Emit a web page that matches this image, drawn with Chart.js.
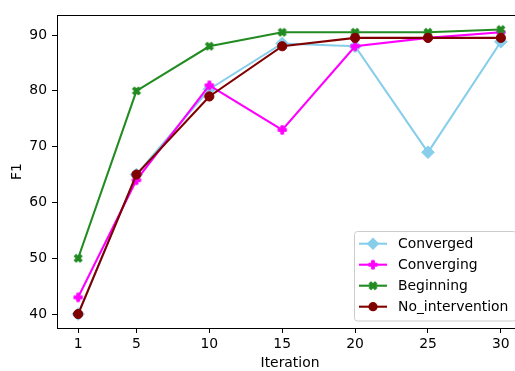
<!DOCTYPE html>
<html>
<head>
<meta charset="utf-8">
<script src="https://cdn.jsdelivr.net/npm/chart.js@4"></script>
<style>
  html, body { margin: 0; padding: 0; background: #fff; overflow: hidden; }
  #wrap { width: 515px; height: 371px; overflow: hidden; }
</style>
</head>
<body>
<div id="wrap"><canvas id="f1Chart" width="540" height="371"></canvas></div>
<script>
// data
const iterations = [1, 5, 10, 15, 20, 25, 30];
const converged = [40, 65, 80.3, 88.5, 88, 69, 88.8];
const converging = [43, 64, 81, 73, 88, 89.5, 90.5];
const beginning = [50, 80, 88, 90.5, 90.5, 90.5, 91];
const noIntervention = [40, 65, 79, 88, 89.5, 89.5, 89.5];
const yTicks = [40, 50, 60, 70, 80, 90];

const FONT = "'DejaVu Sans', sans-serif";

// filled plus / filled x markers like matplotlib 'P' and 'X'
function makeMarker(color, rot) {
    const c = document.createElement('canvas');
    c.width = 14; c.height = 14;
    const g = c.getContext('2d');
    const pts = [[-1,-3],[1,-3],[1,-1],[3,-1],[3,1],[1,1],[1,3],[-1,3],[-1,1],[-3,1],[-3,-1],[-1,-1]];
    const s = 8.3 / 6;
    g.translate(7, 7);
    g.rotate(rot);
    g.beginPath();
    pts.forEach((p, i) => {
        if (i == 0) g.moveTo(p[0]*s, p[1]*s); else g.lineTo(p[0]*s, p[1]*s);
    });
    g.closePath();
    g.fillStyle = color;
    g.strokeStyle = color;
    g.lineWidth = 1;
    g.fill();
    g.stroke();
    return c;
}

const series = [
    { label: 'Converged', values: converged, color: '#87CEEB', style: 'rectRot', radius: 6.3, order: 3 },
    { label: 'Converging', values: converging, color: '#FF00FF', style: makeMarker('#FF00FF', 0), order: 2 },
    { label: 'Beginning', values: beginning, color: '#228B22', style: makeMarker('#228B22', Math.PI / 4), order: 1 },
    { label: 'No_intervention', values: noIntervention, color: '#800000', style: 'circle', radius: 4.6, order: 0 }
];

const datasets = series.map(s => ({
    label: s.label,
    data: s.values.map((v, i) => ({ x: iterations[i], y: v })),
    borderColor: s.color,
    backgroundColor: s.color,
    borderWidth: 2.1,
    pointStyle: s.style,
    pointRadius: s.radius || 5,
    pointBorderWidth: 1,
    pointBorderColor: s.color,
    pointBackgroundColor: s.color,
    tension: 0,
    order: s.order
}));

// frame, axis titles and matplotlib style legend
const extras = {
    id: 'extras',
    afterDraw(chart) {
        const ctx = chart.ctx;
        const a = chart.chartArea;
        ctx.save();
        ctx.strokeStyle = '#000';
        ctx.lineWidth = 1;
        ctx.beginPath();
        ctx.moveTo(a.left, a.top + 0.5);
        ctx.lineTo(a.right, a.top + 0.5);
        ctx.moveTo(a.right - 0.5, a.top);
        ctx.lineTo(a.right - 0.5, a.bottom);
        ctx.stroke();

        ctx.fillStyle = '#000';
        ctx.font = '13.9px ' + FONT;
        ctx.textAlign = 'center';
        ctx.textBaseline = 'middle';
        ctx.fillText('Iteration', (a.left + a.right) / 2 + 0.5, 363);
        ctx.translate(17, (a.top + a.bottom) / 2);
        ctx.rotate(-Math.PI / 2);
        ctx.fillText('F1', 0, 0);
        ctx.restore();

        // legend (its right edge runs past the window like in the picture)
        ctx.save();
        ctx.beginPath();
        ctx.roundRect(354.5, 231.5, 162, 89.5, 3);
        ctx.fillStyle = 'rgba(255,255,255,0.8)';
        ctx.fill();
        ctx.strokeStyle = '#cccccc';
        ctx.lineWidth = 1;
        ctx.stroke();
        series.forEach((s, i) => {
            const y = 243.7 + i * 21;
            ctx.strokeStyle = s.color;
            ctx.lineWidth = 2.1;
            ctx.beginPath();
            ctx.moveTo(359, y);
            ctx.lineTo(387, y);
            ctx.stroke();
            if (typeof s.style === 'string') {
                ctx.fillStyle = s.color;
                ctx.beginPath();
                if (s.style === 'circle') {
                    ctx.arc(373, y, s.radius, 0, Math.PI * 2);
                } else {
                    ctx.moveTo(373, y - s.radius);
                    ctx.lineTo(373 + s.radius, y);
                    ctx.lineTo(373, y + s.radius);
                    ctx.lineTo(373 - s.radius, y);
                    ctx.closePath();
                }
                ctx.fill();
            } else {
                ctx.drawImage(s.style, 373 - 7, y - 7);
            }
            ctx.fillStyle = '#000';
            ctx.font = '13.9px ' + FONT;
            ctx.textAlign = 'left';
            ctx.textBaseline = 'middle';
            ctx.fillText(s.label, 398, y + 0.5);
        });
        ctx.restore();
    }
};

const ctx = document.getElementById('f1Chart').getContext('2d');
new Chart(ctx, {
    type: 'line',
    data: { datasets: datasets },
    options: {
        responsive: false,
        animation: false,
        devicePixelRatio: 1,
        layout: { padding: { top: 15, right: 18, left: 0, bottom: 0 } },
        plugins: { legend: { display: false }, tooltip: { enabled: false } },
        scales: {
            x: {
                type: 'linear',
                min: -0.45,
                max: 31.45,
                afterBuildTicks: scale => { scale.ticks = iterations.map(v => ({ value: v })); },
                afterFit: scale => { scale.height = 43; },
                grid: { drawOnChartArea: false, color: '#000', tickLength: 5, tickWidth: 1 },
                border: { display: true, color: '#000', width: 1 },
                ticks: { color: '#000', font: { family: FONT, size: 13.9 }, padding: 3, maxRotation: 0, autoSkip: false }
            },
            y: {
                min: 37.5,
                max: 93.6,
                afterBuildTicks: scale => { scale.ticks = yTicks.map(v => ({ value: v })); },
                afterFit: scale => { scale.width = 57; },
                grid: { drawOnChartArea: false, color: '#000', tickLength: 5, tickWidth: 1 },
                border: { display: true, color: '#000', width: 1 },
                ticks: { color: '#000', font: { family: FONT, size: 13.9 }, padding: 5 }
            }
        }
    },
    plugins: [extras]
});
</script>
</body>
</html>
